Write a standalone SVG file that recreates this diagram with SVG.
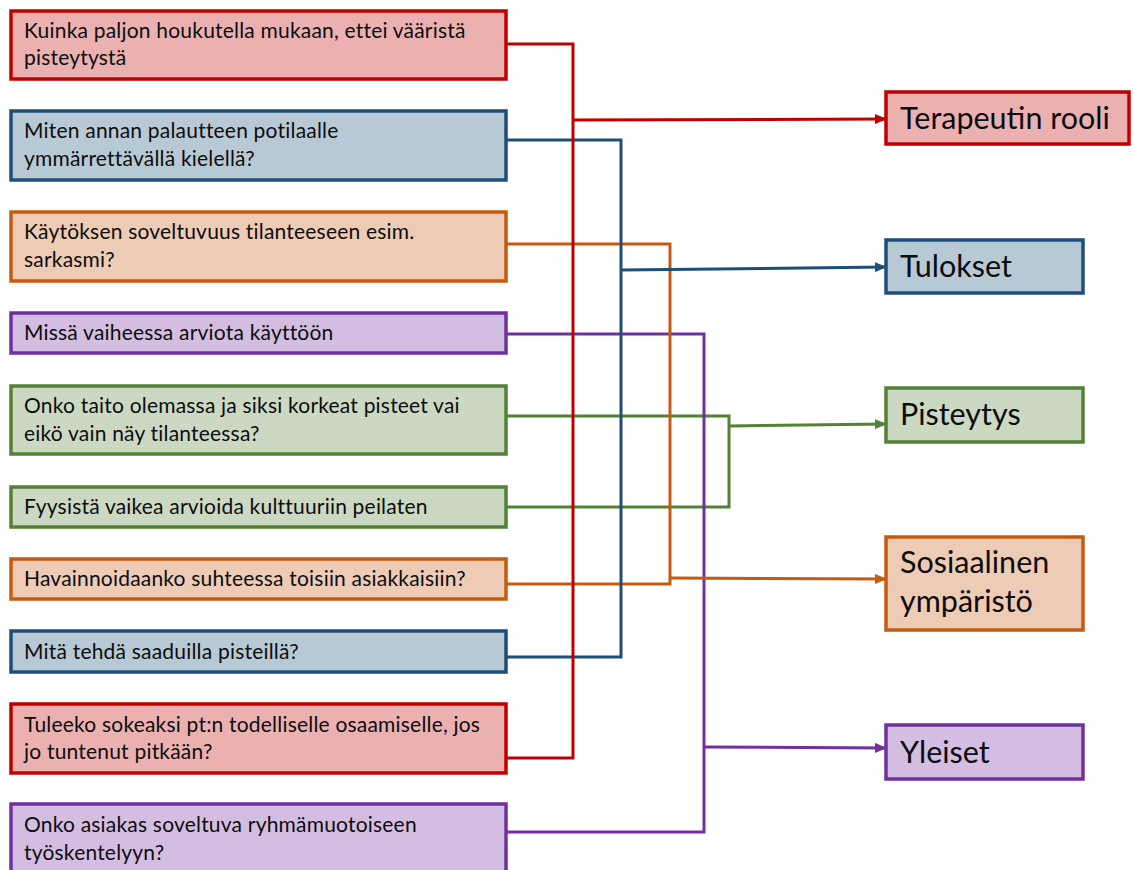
<svg xmlns="http://www.w3.org/2000/svg" width="1133" height="870" viewBox="0 0 1133 870">
<style>
  text { font-family: Lato, "Open Sans", "Liberation Sans", sans-serif; fill: #0d0d0d; }
  .q { font-size: 21px; letter-spacing: 0.2px; }
  .t { font-size: 30.5px; }
  rect { stroke-width: 3.5; }
  .red rect { fill: #EBB1B1; stroke: #C00000; }
  .blue rect { fill: #B8C9D6; stroke: #1F4E79; }
  .orange rect { fill: #EECBB5; stroke: #C55A11; }
  .purple rect { fill: #D3BEE1; stroke: #7030A0; }
  .green rect { fill: #CBD9C3; stroke: #538135; }
  .c { fill: none; stroke-width: 3; stroke-linejoin: miter; }
  .cr { stroke: #C00000; } .cb { stroke: #1F4E79; } .co { stroke: #C55A11; } .cp { stroke: #7030A0; } .cg { stroke: #538135; }
</style>
<defs>
  <marker id="ar" markerWidth="12" markerHeight="10" refX="11" refY="5" orient="auto" markerUnits="userSpaceOnUse"><path d="M0,0 L12,5 L0,10 Z" fill="#C00000"/></marker>
  <marker id="ab" markerWidth="12" markerHeight="10" refX="11" refY="5" orient="auto" markerUnits="userSpaceOnUse"><path d="M0,0 L12,5 L0,10 Z" fill="#1F4E79"/></marker>
  <marker id="ao" markerWidth="12" markerHeight="10" refX="11" refY="5" orient="auto" markerUnits="userSpaceOnUse"><path d="M0,0 L12,5 L0,10 Z" fill="#C55A11"/></marker>
  <marker id="ap" markerWidth="12" markerHeight="10" refX="11" refY="5" orient="auto" markerUnits="userSpaceOnUse"><path d="M0,0 L12,5 L0,10 Z" fill="#7030A0"/></marker>
  <marker id="ag" markerWidth="12" markerHeight="10" refX="11" refY="5" orient="auto" markerUnits="userSpaceOnUse"><path d="M0,0 L12,5 L0,10 Z" fill="#538135"/></marker>
</defs>

<g id="connectors">
  <path class="c cg" d="M506,416 H729 V507 H506"/>
  <path class="c cg" d="M729,426 L886,424" marker-end="url(#ag)"/>
  <path class="c cp" d="M506,334 H704 V832 H506"/>
  <path class="c cp" d="M704,747 L886,748" marker-end="url(#ap)"/>
  <path class="c co" d="M506,244 H670 V584 H506"/>
  <path class="c co" d="M670,578 L886,579" marker-end="url(#ao)"/>
  <path class="c cb" d="M506,140 H621 V657 H506"/>
  <path class="c cb" d="M621,270 L886,267" marker-end="url(#ab)"/>
  <path class="c cr" d="M506,44 H573 V758 H506"/>
  <path class="c cr" d="M573,120 L886,119" marker-end="url(#ar)"/>
</g>

<g id="q1" class="red"><rect x="11" y="11" width="495" height="68"/><text class="q" x="24" y="38">Kuinka paljon houkutella mukaan, ettei vääristä</text><text class="q" x="24" y="65">pisteytystä</text></g>
<g id="q2" class="blue"><rect x="11" y="111" width="495" height="69"/><text class="q" x="24" y="138">Miten annan palautteen potilaalle</text><text class="q" x="24" y="166">ymmärrettävällä kielellä?</text></g>
<g id="q3" class="orange"><rect x="11" y="212" width="495" height="69"/><text class="q" x="24" y="239">Käytöksen soveltuvuus tilanteeseen esim.</text><text class="q" x="24" y="267">sarkasmi?</text></g>
<g id="q4" class="purple"><rect x="11" y="313" width="495" height="40"/><text class="q" x="24" y="340">Missä vaiheessa arviota käyttöön</text></g>
<g id="q5" class="green"><rect x="11" y="386" width="495" height="68"/><text class="q" x="24" y="413">Onko taito olemassa ja siksi korkeat pisteet vai</text><text class="q" x="24" y="441">eikö vain näy tilanteessa?</text></g>
<g id="q6" class="green"><rect x="11" y="487" width="495" height="40"/><text class="q" x="24" y="514">Fyysistä vaikea arvioida kulttuuriin peilaten</text></g>
<g id="q7" class="orange"><rect x="11" y="559" width="495" height="40"/><text class="q" x="24" y="586">Havainnoidaanko suhteessa toisiin asiakkaisiin?</text></g>
<g id="q8" class="blue"><rect x="11" y="631" width="495" height="41"/><text class="q" x="24" y="659">Mitä tehdä saaduilla pisteillä?</text></g>
<g id="q9" class="red"><rect x="11" y="704" width="495" height="69"/><text class="q" x="24" y="732">Tuleeko sokeaksi pt:n todelliselle osaamiselle, jos</text><text class="q" x="24" y="759">jo tuntenut pitkään?</text></g>
<g id="q10" class="purple"><rect x="11" y="804" width="495" height="70"/><text class="q" x="24" y="832">Onko asiakas soveltuva ryhmämuotoiseen</text><text class="q" x="24" y="860">työskentelyyn?</text></g>

<g id="t1" class="red"><rect x="886" y="92" width="243" height="52"/><text class="t" x="900" y="129">Terapeutin rooli</text></g>
<g id="t2" class="blue"><rect x="886" y="240" width="197" height="53"/><text class="t" x="900" y="277">Tulokset</text></g>
<g id="t3" class="green"><rect x="886" y="388" width="197" height="54"/><text class="t" x="900" y="425">Pisteytys</text></g>
<g id="t4" class="orange"><rect x="886" y="537" width="197" height="93"/><text class="t" x="900" y="573">Sosiaalinen</text><text class="t" x="900" y="612">ympäristö</text></g>
<g id="t5" class="purple"><rect x="886" y="725" width="197" height="54"/><text class="t" x="900" y="763">Yleiset</text></g>
</svg>
